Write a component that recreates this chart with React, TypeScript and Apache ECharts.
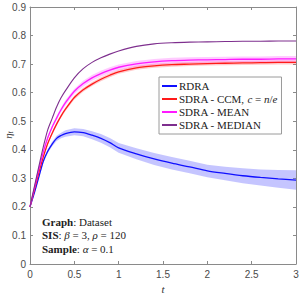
import React, { useEffect, useRef } from "react";
import * as echarts from "echarts";

const tValues = [0, 0.05, 0.1, 0.15, 0.2, 0.25, 0.3, 0.35, 0.4, 0.5, 0.6, 0.7, 0.8, 0.9, 1.0, 1.2, 1.4, 1.6, 1.8, 2.0, 2.2, 2.4, 2.6, 2.8, 3.0];
const rdra = [0.2, 0.25, 0.305, 0.36, 0.395, 0.42, 0.44, 0.45, 0.457, 0.463, 0.46, 0.451, 0.44, 0.425, 0.407, 0.386, 0.368, 0.353, 0.34, 0.326, 0.317, 0.309, 0.303, 0.298, 0.294];
const rdraHalf = [0, 0.004, 0.005, 0.006, 0.007, 0.008, 0.009, 0.01, 0.011, 0.012, 0.013, 0.014, 0.015, 0.016, 0.017, 0.019, 0.021, 0.022, 0.022, 0.022, 0.024, 0.026, 0.028, 0.031, 0.034];
const ccm = [0.2, 0.26, 0.32, 0.375, 0.422, 0.458, 0.49, 0.518, 0.542, 0.583, 0.61, 0.63, 0.647, 0.661, 0.673, 0.687, 0.694, 0.698, 0.7, 0.702, 0.703, 0.704, 0.705, 0.706, 0.706];
const ccmHalf = [0, 0.002, 0.003, 0.004, 0.005, 0.005, 0.006, 0.006, 0.006, 0.007, 0.007, 0.007, 0.007, 0.007, 0.007, 0.007, 0.007, 0.007, 0.007, 0.007, 0.007, 0.007, 0.007, 0.007, 0.007];
const mean = [0.2, 0.266, 0.332, 0.392, 0.442, 0.48, 0.511, 0.54, 0.565, 0.605, 0.632, 0.652, 0.667, 0.679, 0.689, 0.701, 0.708, 0.712, 0.714, 0.715, 0.716, 0.717, 0.717, 0.718, 0.718];
const meanHalf = [0, 0.003, 0.004, 0.005, 0.006, 0.007, 0.008, 0.008, 0.009, 0.009, 0.01, 0.01, 0.01, 0.01, 0.01, 0.01, 0.01, 0.01, 0.01, 0.01, 0.01, 0.01, 0.01, 0.01, 0.01];
const median = [0.2, 0.272, 0.342, 0.41, 0.47, 0.51, 0.55, 0.582, 0.607, 0.652, 0.684, 0.706, 0.722, 0.735, 0.746, 0.762, 0.771, 0.775, 0.777, 0.778, 0.779, 0.78, 0.78, 0.781, 0.781];

const xTicks = { min: 0, max: 3, interval: 0.5 };
const yTicks = { min: 0, max: 0.9, interval: 0.1 };
const yMaxLabel = "0.9";

const seriesNames = ["RDRA", "SDRA - CCM, c = n/e", "SDRA - MEAN", "SDRA - MEDIAN"];
const lineColors = ["#1010ff", "#ff1a1a", "#ff1aff", "#7e2f8e"];

const pairs = (vals: number[]) => tValues.map((t, i) => [t, vals[i]]);

function band(name: string, center: number[], half: number[], color: string) {
  const upper = tValues.map((t, i) => [t, center[i] + half[i]]);
  const lower = tValues.map((t, i) => [t, center[i] - half[i]]);
  return {
    type: "custom",
    name: "_band_" + name,
    coordinateSystem: "cartesian2d",
    data: [[0, center[0]]],
    silent: true,
    z: 1,
    renderItem: (_params: any, api: any) => {
      const pts = [...upper.map((p) => api.coord(p)), ...lower.slice().reverse().map((p) => api.coord(p))];
      return { type: "polygon", shape: { points: pts }, style: { fill: color } };
    },
  };
}

export default function App() {
  const ref = useRef<HTMLDivElement>(null);
  useEffect(() => {
    if (!ref.current) return;
    const chart = echarts.init(ref.current, null, { renderer: "svg" });
    const serif = "Liberation Serif";
    const axisColor = "#8a8a8a";
    const labelColor = "#4a4a4a";
    const commonX = {
      type: "value",
      min: xTicks.min,
      max: xTicks.max,
      interval: xTicks.interval,
      splitLine: { show: false },
      axisLine: { show: true, onZero: false, lineStyle: { color: axisColor, width: 1 } },
      axisTick: { show: true, inside: true, length: 3, lineStyle: { color: axisColor } },
    };
    const commonY = {
      type: "value",
      min: yTicks.min,
      max: yTicks.max,
      interval: yTicks.interval,
      splitLine: { show: false },
      axisLine: { show: true, onZero: false, lineStyle: { color: axisColor, width: 1 } },
      axisTick: { show: true, inside: true, length: 3, lineStyle: { color: axisColor } },
    };
    const txt = { fontFamily: serif, fontSize: 11, fill: "#222", lineHeight: 13.5 };
    chart.setOption({
      animation: false,
      backgroundColor: "#ffffff",
      grid: { left: 30, right: 9, top: 7, bottom: 31, containLabel: false, outerBoundsMode: "none" },
      xAxis: [
        {
          ...commonX,
          position: "bottom",
          axisLabel: { color: labelColor, fontSize: 10, fontFamily: "Liberation Sans", margin: 5 },
          name: "t",
          nameLocation: "middle",
          nameGap: 15,
          nameTextStyle: { fontFamily: serif, fontStyle: "italic", fontSize: 11, color: "#333" },
        },
        { ...commonX, position: "top", axisLabel: { show: false } },
      ],
      yAxis: [
        {
          ...commonY,
          position: "left",
          axisLabel: { color: labelColor, fontSize: 10, fontFamily: "Liberation Sans", margin: 4, showMaxLabel: false },
        },
        { ...commonY, position: "right", axisLabel: { show: false } },
      ],
      legend: {
        data: seriesNames.map((n) => ({ name: n, icon: "rect" })),
        orient: "vertical",
        left: 159,
        top: 77,
        padding: [3, 4, 3, 3],
        itemGap: 1,
        itemWidth: 15,
        itemHeight: 2,
        backgroundColor: "#ffffff",
        borderColor: "#9a9a9a",
        borderWidth: 1,
        borderRadius: 0,
        textStyle: {
          fontFamily: serif,
          fontSize: 11,
          color: "#222",
          lineHeight: 12,
          padding: [0, 0, 0, -3],
          rich: {
            r: { fontFamily: serif, fontSize: 11, color: "#222", lineHeight: 12 },
            i: { fontFamily: serif, fontSize: 11, fontStyle: "italic", color: "#222", lineHeight: 12 },
          },
        },
        formatter: (name: string) =>
          name === seriesNames[1] ? "{r|SDRA - CCM, }{i|c}{r| = }{i|n}{r|/}{i|e}" : name,
      },
      graphic: [
        {
          id: "ylabel",
          type: "text",
          x: 8,
          y: 135,
          rotation: Math.PI / 2,
          z: 10,
          style: {
            text: "{a|η}{b|t}",
            align: "center",
            verticalAlign: "middle",
            rich: {
              a: { fontFamily: serif, fontStyle: "italic", fontSize: 11, fill: "#333" },
              b: { fontFamily: serif, fontStyle: "italic", fontSize: 8, fill: "#333", padding: [5, 0, 0, 0] },
            },
          },
        },
        {
          id: "note",
          type: "text",
          left: 42,
          top: 216,
          z: 10,
          style: {
            text:
              "{b|Graph}{r|: Dataset}\n{b|SIS}{r|: }{i|β}{r| = 3, }{i|ρ}{r| = 120}\n{b|Sample}{r|: }{i|α}{r| = 0.1}",
            rich: {
              b: { ...txt, fontWeight: "bold" },
              r: { ...txt },
              i: { ...txt, fontStyle: "italic" },
            },
          },
        },
      ],
      series: [
        band("rdra", rdra, rdraHalf, "rgba(90,90,255,0.35)"),
        band("ccm", ccm, ccmHalf, "rgba(255,80,80,0.3)"),
        band("mean", mean, meanHalf, "rgba(255,80,255,0.3)"),
        { type: "line", name: seriesNames[0], data: pairs(rdra), symbol: "none", smooth: 0.3, lineStyle: { color: lineColors[0], width: 1.3 }, itemStyle: { color: lineColors[0] }, z: 3 },
        { type: "line", name: seriesNames[1], data: pairs(ccm), symbol: "none", smooth: 0.3, lineStyle: { color: lineColors[1], width: 1.3 }, itemStyle: { color: lineColors[1] }, z: 3 },
        { type: "line", name: seriesNames[2], data: pairs(mean), symbol: "none", smooth: 0.3, lineStyle: { color: lineColors[2], width: 1.3 }, itemStyle: { color: lineColors[2] }, z: 3 },
        { type: "line", name: seriesNames[3], data: pairs(median), symbol: "none", smooth: 0.3, lineStyle: { color: lineColors[3], width: 1.1 }, itemStyle: { color: lineColors[3] }, z: 3 },
      ],
    });
    // Top y tick label placed through the axis scale (ECharts hides it at the extent edge)
    const py = chart.convertToPixel({ yAxisIndex: 0 }, yTicks.max) as number;
    const px = chart.convertToPixel({ xAxisIndex: 0 }, xTicks.min) as number;
    if (typeof py === "number" && typeof px === "number" && isFinite(py) && isFinite(px)) {
      chart.setOption({
        graphic: [
          {
            id: "ymax",
            type: "text",
            x: px - 4,
            y: py,
            z: 10,
            style: {
              text: yMaxLabel,
              align: "right",
              verticalAlign: "middle",
              fontFamily: "Liberation Sans",
              fontSize: 10,
              fill: labelColor,
            },
          },
        ],
      });
    }
    return () => chart.dispose();
  }, []);
  return <div ref={ref} style={{ width: 305, height: 295, position: "absolute", left: 0, top: 0 }} />;
}
